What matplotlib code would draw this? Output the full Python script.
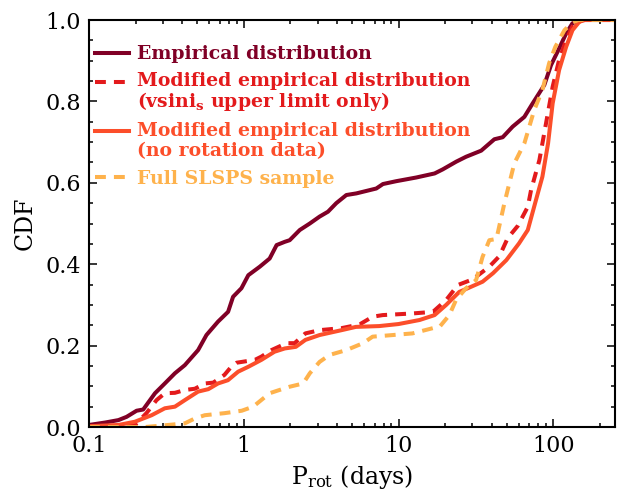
import numpy as np
import matplotlib
matplotlib.use("Agg")
import matplotlib.pyplot as plt
from matplotlib.ticker import MultipleLocator, FixedLocator, NullFormatter, FormatStrFormatter
from matplotlib.legend_handler import HandlerLine2D

# ---------------- data ----------------
emp_x = [0.1, 0.127, 0.155, 0.175, 0.203, 0.224, 0.267, 0.309, 0.359, 0.416, 0.507, 0.574,
         0.682, 0.792, 0.853, 0.966, 1.07, 1.27, 1.47, 1.63, 1.84, 1.98, 2.30, 2.67, 3.09,
         3.50, 3.96, 4.60, 5.34, 7.18, 7.93, 9.67, 13.0, 17.1, 19.3, 23.6, 27.3, 34.2, 41.6,
         47.1, 54.6, 65, 73.5, 87.4, 96.6, 109, 121, 133, 150, 250]
emp_y = [0.005, 0.011, 0.017, 0.025, 0.040, 0.043, 0.083, 0.107, 0.132, 0.152, 0.189, 0.226,
         0.259, 0.283, 0.320, 0.341, 0.373, 0.394, 0.414, 0.447, 0.455, 0.459, 0.484, 0.500, 0.517,
         0.529, 0.550, 0.570, 0.574, 0.586, 0.597, 0.604, 0.613, 0.623, 0.633, 0.652, 0.664, 0.679, 0.707,
         0.712, 0.738, 0.762, 0.795, 0.840, 0.889, 0.930, 0.967, 0.992, 1.0, 1.0]

vsini_x = [0.1, 0.15, 0.198, 0.235, 0.273, 0.309, 0.359, 0.416, 0.483, 0.56, 0.635, 0.75, 0.83,
           0.90, 1.18, 1.30, 1.51, 1.89, 2.13, 2.5, 3.09, 4.29, 5.6, 6.8, 7.9, 12.3, 16.7, 20.3,
           24.2, 30.2, 38.6, 44.9, 50.7, 58.9, 68.4, 71.8, 81.3, 89.7, 99, 109, 121, 133, 146, 160, 250]
vsini_y = [0.002, 0.003, 0.005, 0.034, 0.066, 0.083, 0.084, 0.091, 0.094, 0.107, 0.109, 0.128, 0.148,
           0.158, 0.165, 0.173, 0.189, 0.206, 0.206, 0.230, 0.238, 0.243, 0.252, 0.271, 0.275, 0.279, 0.283, 0.312,
           0.349, 0.363, 0.394, 0.420, 0.464, 0.494, 0.541, 0.582, 0.656, 0.746, 0.836, 0.902, 0.951, 0.984, 0.996, 1.0, 1.0]

norot_x = [0.1, 0.155, 0.198, 0.254, 0.309, 0.359, 0.416, 0.507, 0.59, 0.682, 0.79, 0.92, 1.07,
           1.30, 1.58, 1.84, 2.17, 2.5, 3.09, 4.29, 5.3, 7.5, 10, 13.7, 17.1, 20.3, 24.7, 28.8,
           34.9, 40.8, 49.7, 60, 68.4, 77.3, 85, 92.5, 99, 109, 121, 133, 146, 155, 250]
norot_y = [0.002, 0.005, 0.013, 0.029, 0.046, 0.050, 0.066, 0.087, 0.093, 0.107, 0.115, 0.136, 0.148,
           0.165, 0.185, 0.193, 0.197, 0.214, 0.226, 0.238, 0.246, 0.248, 0.253, 0.263, 0.275, 0.300, 0.332, 0.343,
           0.357, 0.378, 0.410, 0.451, 0.484, 0.558, 0.615, 0.697, 0.795, 0.877, 0.934, 0.975, 0.994, 1.0, 1.0]

full_x = [0.1, 0.23, 0.325, 0.416, 0.483, 0.56, 0.75, 0.97, 1.15, 1.47, 1.67, 1.98, 2.42, 2.67,
          3.09, 3.58, 4.6, 5.9, 6.8, 9.2, 12.3, 16.7, 18.4, 21.3, 23.5, 27.3, 31.7, 34.9, 38.6,
          42.9, 48.3, 56.0, 65, 75.3, 85, 94, 103, 118, 133, 145, 250]
full_y = [0.0, 0.0, 0.005, 0.009, 0.021, 0.029, 0.034, 0.040, 0.050, 0.083, 0.090, 0.099, 0.107, 0.132,
          0.160, 0.177, 0.189, 0.206, 0.222, 0.226, 0.230, 0.243, 0.246, 0.275, 0.312, 0.341, 0.361, 0.418, 0.459,
          0.462, 0.550, 0.648, 0.697, 0.779, 0.828, 0.894, 0.934, 0.975, 0.994, 1.0, 1.0]

labels = ["Empirical distribution",
          "Modified empirical distribution\n(vsini$_{\\mathbf{s}}$ upper limit only)",
          "Modified empirical distribution\n(no rotation data)",
          "Full SLSPS sample"]
colors = ["#800026", "#e31a1c", "#fc4e2a", "#feb24c"]

xticks = [0.1, 1, 10, 100]
xtick_labels = ["0.1", "1", "10", "100"]


class TopLineHandler(HandlerLine2D):
    """Legend handle aligned with the first line of a two-line label."""
    def __init__(self, shift, **kw):
        super().__init__(**kw)
        self.shift = shift

    def create_artists(self, legend, orig_handle, xdescent, ydescent, width, height, fontsize, trans):
        arts = super().create_artists(legend, orig_handle, xdescent, ydescent, width, height, fontsize, trans)
        for a in arts:
            a.set_ydata(np.asarray(a.get_ydata()) + self.shift)
        return arts


# ---------------- figure ----------------
plt.rcParams["font.family"] = "DejaVu Serif"
plt.rcParams["mathtext.fontset"] = "dejavuserif"

fig = plt.figure(figsize=(6.18, 4.94), dpi=100)
ax = fig.add_axes([0.144, 0.1356, 0.851, 0.8239])

lw = 2.9
dash = (2.7, 2.0)
l1, = ax.plot(emp_x, emp_y, color=colors[0], lw=lw, label=labels[0])
l2, = ax.plot(vsini_x, vsini_y, color=colors[1], lw=lw, ls=(0, dash), label=labels[1])
l3, = ax.plot(norot_x, norot_y, color=colors[2], lw=lw, label=labels[2])
l4, = ax.plot(full_x, full_y, color=colors[3], lw=lw, ls=(0, dash), label=labels[3])

ax.set_xscale("log")
ax.set_xlim(0.1, 250)
ax.set_ylim(0, 1)
ax.xaxis.set_major_locator(FixedLocator(xticks))
ax.set_xticklabels(xtick_labels)
ax.xaxis.set_minor_formatter(NullFormatter())
ax.yaxis.set_major_locator(MultipleLocator(0.2))
ax.yaxis.set_minor_locator(MultipleLocator(0.05))
ax.yaxis.set_major_formatter(FormatStrFormatter("%.1f"))

ax.tick_params(which="both", direction="in", top=True, right=True, labelsize=16, width=1.1)
ax.tick_params(which="major", length=5.5, pad=6)
ax.tick_params(which="minor", length=3)
for s in ax.spines.values():
    s.set_linewidth(1.5)

ax.set_xlabel("P$_{\\mathrm{rot}}$ (days)", fontsize=17, labelpad=4)
ax.set_ylabel("CDF", fontsize=17, labelpad=6)

shift = 7.6
hmap = {l2: TopLineHandler(shift), l3: TopLineHandler(shift)}
leg = ax.legend(handles=[l1, l2, l3, l4], loc="upper left", bbox_to_anchor=(0.0114, 0.938),
                frameon=False, prop={"family": "DejaVu Serif", "weight": "bold", "size": 13.6},
                handlelength=1.8, handletextpad=0.42, labelspacing=0.48, borderaxespad=0.0,
                borderpad=0.0, labelcolor="linecolor", handler_map=hmap)
texts = leg.get_texts()
texts[1].set_linespacing(0.97)
texts[2].set_linespacing(1.19)

fig.savefig("out.png", dpi=100)
